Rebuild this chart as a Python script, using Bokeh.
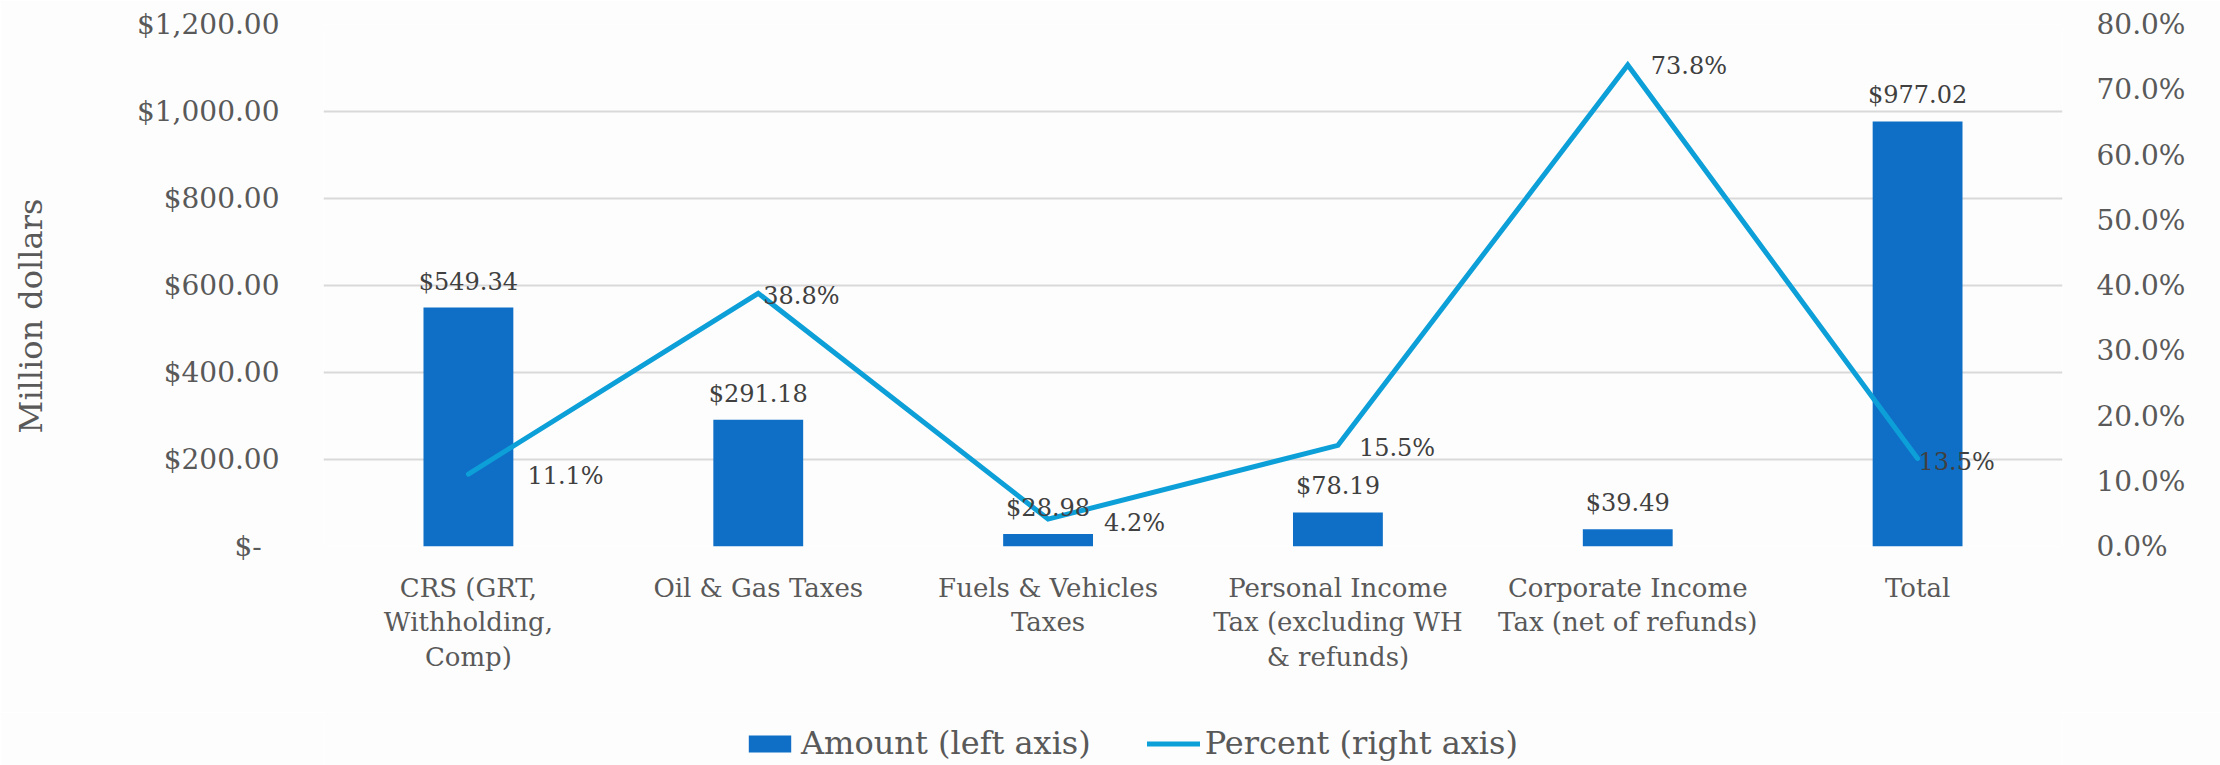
from bokeh.plotting import figure
from bokeh.models import (ColumnDataSource, Range1d, LinearAxis, FixedTicker,
                          NumeralTickFormatter, Legend, LegendItem, FactorRange)
from bokeh.layouts import column
from bokeh.core.properties import value
from bokeh.embed import file_html
from bokeh.resources import INLINE

# ---- data ----
categories = ["CRS (GRT,\nWithholding,\nComp)", "Oil & Gas Taxes",
              "Fuels & Vehicles\nTaxes", "Personal Income\nTax (excluding WH\n& refunds)",
              "Corporate Income\nTax (net of refunds)", "Total"]
amounts = [549.34, 291.18, 28.98, 78.19, 39.49, 977.02]
percents = [0.111, 0.388, 0.042, 0.155, 0.738, 0.135]
amount_labels = ["$549.34", "$291.18", "$28.98", "$78.19", "$39.49", "$977.02"]
percent_labels = ["11.1%", "38.8%", "4.2%", "15.5%", "73.8%", "13.5%"]
left_ticks = [0, 200, 400, 600, 800, 1000, 1200]
right_ticks = [0.0, 0.1, 0.2, 0.3, 0.4, 0.5, 0.6, 0.7, 0.8]
series_names = ["Amount (left axis)", "Percent (right axis)"]

# ---- styling (label offsets in px) ----
pct_dx = [59, 5, 56, 21, 23, 1]
pct_dy = [2, 3, 4, 3, 1, 4]

FONT = "DejaVu Serif"
BAR = "#0F6FC6"
LINE = "#0C9FD8"
TXT = "#595959"
DLBL = "#404040"
BG = "#FDFDFD"

src = ColumnDataSource(dict(cat=categories, amt=amounts, pct=percents,
                            amt_lbl=amount_labels, pct_lbl=percent_labels,
                            dx=pct_dx, dy=pct_dy))

p = figure(width=2220, height=712, x_range=FactorRange(*categories, range_padding=0),
           y_range=Range1d(0, 1200), output_backend="svg", toolbar_location=None,
           min_border_left=323, min_border_right=158, min_border_top=24, min_border_bottom=166)
p.background_fill_color = BG
p.border_fill_color = BG
p.outline_line_color = None

p.extra_y_ranges = {"pct": Range1d(0, 0.8)}

p.vbar(x="cat", top="amt", width=0.31, source=src, fill_color=BAR, line_color=None)
p.line(x="cat", y="pct", source=src, y_range_name="pct", line_color=LINE,
       line_width=5, line_cap="round", line_join="miter")

p.text(x="cat", y="amt", text="amt_lbl", source=src, text_align="center",
       text_baseline="alphabetic", y_offset=-26, text_font=value(FONT),
       text_font_size="24px", text_color=DLBL)
p.text(x="cat", y="pct", text="pct_lbl", source=src, y_range_name="pct",
       text_align="left", text_baseline="middle", x_offset="dx", y_offset="dy",
       text_font=value(FONT), text_font_size="24px", text_color=DLBL)

# grid
p.xgrid.grid_line_color = None
p.ygrid.grid_line_color = "#D9D9D9"
p.ygrid.grid_line_width = 2
p.ygrid.ticker = FixedTicker(ticks=left_ticks)

# left axis
ly = p.yaxis[0]
ly.ticker = FixedTicker(ticks=left_ticks)
ly.formatter = NumeralTickFormatter(format="$0,0.00")
ly.major_label_overrides = {0: "$-\u00a0\u00a0"}
ly.axis_line_color = None
ly.major_tick_line_color = None
ly.minor_tick_line_color = None
ly.major_label_standoff = 38
ly.major_label_text_font = FONT
ly.major_label_text_font_size = "28px"
ly.major_label_text_color = TXT
ly.axis_label = "Million dollars" + "\u00a0" * 6
ly.axis_label_text_font = FONT
ly.axis_label_text_font_size = "32px"
ly.axis_label_text_font_style = "normal"
ly.axis_label_text_color = TXT
ly.axis_label_standoff = 84

# right axis
ry = LinearAxis(y_range_name="pct", ticker=FixedTicker(ticks=right_ticks),
                formatter=NumeralTickFormatter(format="0.0%"))
ry.axis_line_color = None
ry.major_tick_line_color = None
ry.minor_tick_line_color = None
ry.major_label_standoff = 28
ry.major_label_text_font = FONT
ry.major_label_text_font_size = "28px"
ry.major_label_text_color = TXT
p.add_layout(ry, "right")

# x axis
xa = p.xaxis[0]
xa.axis_line_color = None
xa.major_tick_line_color = None
xa.minor_tick_line_color = None
xa.major_label_standoff = 20
xa.major_label_text_font = FONT
xa.major_label_text_font_size = "26px"
xa.major_label_text_color = TXT
xa.major_label_text_line_height = 1.16

# ---- legend strip below (same borders so the frames line up) ----
lg = figure(width=2220, height=53, x_range=Range1d(0, 1), y_range=Range1d(0, 1),
            output_backend="svg", toolbar_location=None,
            x_axis_location=None, y_axis_location=None,
            min_border_left=323, min_border_right=158, min_border_top=0, min_border_bottom=0)
lg.background_fill_color = BG
lg.border_fill_color = BG
lg.outline_line_color = None
lg.grid.visible = False
# off-frame stand-ins that carry the series styles for the legend
r_bar = lg.vbar(x=[-10], top=[-10], width=0.3, fill_color=BAR, line_color=None)
r_line = lg.line(x=[-10, -11], y=[-10, -10], line_color=LINE, line_width=5, line_cap="round")

legend = Legend(items=[LegendItem(label=series_names[0], renderers=[r_bar]),
                       LegendItem(label=series_names[1], renderers=[r_line])],
                orientation="horizontal", location=(420, 3),
                glyph_width=53, glyph_height=21, label_standoff=5, spacing=56,
                padding=0, margin=0, border_line_color=None, background_fill_alpha=0,
                label_text_font=FONT, label_text_font_size="32px", label_text_color=TXT)
lg.add_layout(legend, "center")

layout = column(p, lg, spacing=0)
open("out.html", "w").write(file_html(layout, INLINE))
